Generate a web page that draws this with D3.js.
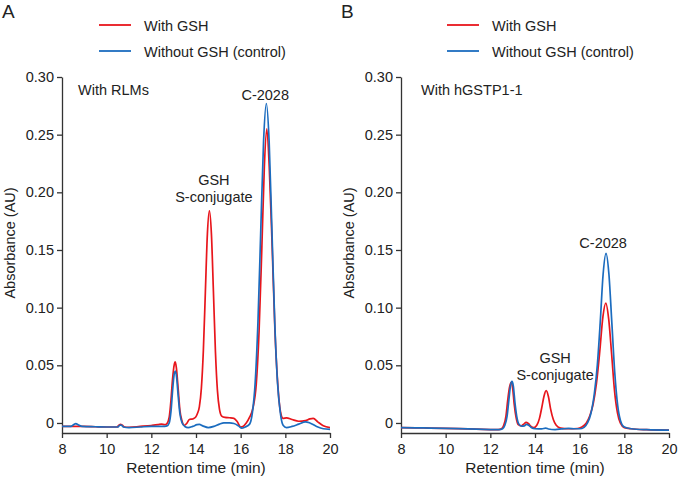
<!DOCTYPE html>
<html>
<head>
<meta charset="utf-8">
<script src="https://cdn.jsdelivr.net/npm/d3@7"></script>
<style>
  html, body { margin: 0; padding: 0; background: #fff; }
  svg { display: block; font-family: "Liberation Sans", Arial, Helvetica, sans-serif; }
  .axis path, .axis line { stroke: #333; stroke-width: 1.3; }
  .axis text { font-size: 14.5px; fill: #222; }
</style>
</head>
<body>
<svg id="chart" width="680" height="478"></svg>
<script>
// ---------------- data (retention time [min], absorbance [AU]) ----------------
const xTicks = [8, 10, 12, 14, 16, 18, 20];
const yTicks = [0, 0.05, 0.10, 0.15, 0.20, 0.25, 0.30];
const seriesNames = ["With GSH", "Without GSH (control)"];
const panelLabels = ["A", "B"];
const panelTitles = ["With RLMs", "With hGSTP1-1"];

const aWithGSH = [[8.0,-0.003],[8.5,-0.003],[9.0,-0.003],[9.5,-0.0033],[10.0,-0.0035],[10.45,-0.0035],[10.55,-0.002],[10.62,-0.0013],[10.7,-0.002],[10.8,-0.0035],[11.0,-0.0037],[11.5,-0.003],[12.0,-0.0022],[12.3,-0.0015],[12.45,-0.001],[12.6,-0.0015],[12.7,-0.0005],[12.8,0.005],[12.88,0.02],[12.95,0.038],[13.02,0.05],[13.07,0.053],[13.12,0.048],[13.2,0.03],[13.28,0.011],[13.37,0.002],[13.48,-0.002],[13.6,0.0],[13.7,0.003],[13.85,0.0035],[13.98,0.005],[14.06,0.008],[14.15,0.014],[14.24,0.03],[14.33,0.063],[14.42,0.114],[14.51,0.164],[14.6,0.184],[14.69,0.164],[14.78,0.114],[14.87,0.062],[14.96,0.028],[15.05,0.012],[15.15,0.006],[15.3,0.0048],[15.5,0.0045],[15.7,0.004],[15.85,0.001],[16.0,-0.0035],[16.1,-0.003],[16.25,0.0],[16.4,0.005],[16.55,0.013],[16.7,0.034],[16.825,0.08],[16.95,0.153],[17.06,0.222],[17.17,0.255],[17.28,0.222],[17.41,0.153],[17.535,0.08],[17.66,0.034],[17.78,0.01],[17.9,0.004],[18.05,0.0045],[18.3,0.003],[18.6,0.0015],[18.9,0.002],[19.1,0.0035],[19.25,0.004],[19.45,0.001],[19.7,-0.0025],[20.0,-0.004]];

const aWithoutGSH = [[8.0,-0.003],[8.4,-0.003],[8.52,-0.0015],[8.62,-0.0005],[8.72,-0.0015],[8.9,-0.003],[9.5,-0.0033],[10.0,-0.0035],[10.5,-0.0035],[10.58,-0.002],[10.65,-0.0018],[10.75,-0.0035],[11.0,-0.004],[11.5,-0.0035],[12.0,-0.003],[12.5,-0.003],[12.7,-0.0025],[12.8,0.0],[12.88,0.01],[12.96,0.03],[13.03,0.043],[13.08,0.045],[13.13,0.04],[13.2,0.024],[13.28,0.008],[13.38,0.0],[13.5,-0.003],[13.65,-0.004],[13.85,-0.003],[14.05,-0.0015],[14.15,-0.0013],[14.3,-0.0025],[14.55,-0.004],[14.8,-0.003],[15.05,-0.001],[15.25,0.0],[15.5,0.0],[15.7,-0.0005],[15.9,-0.0025],[16.05,-0.0045],[16.2,-0.0035],[16.4,-0.001],[16.525,0.009],[16.65,0.035],[16.775,0.088],[16.9,0.167],[17.025,0.244],[17.15,0.277],[17.275,0.244],[17.4,0.167],[17.525,0.088],[17.65,0.035],[17.775,0.009],[17.9,-0.002],[18.05,-0.004],[18.3,-0.003],[18.6,-0.001],[18.9,0.001],[19.1,0.0],[19.4,-0.003],[19.7,-0.005],[20.0,-0.0055]];

const bWithGSH = [[8.0,-0.004],[9.0,-0.0043],[10.0,-0.0047],[11.0,-0.0052],[12.0,-0.0057],[12.35,-0.0058],[12.5,-0.005],[12.6,-0.002],[12.7,0.006],[12.78,0.02],[12.86,0.031],[12.93,0.035],[13.0,0.03],[13.07,0.016],[13.15,0.005],[13.25,-0.0015],[13.38,-0.0025],[13.5,-0.001],[13.6,0.0005],[13.7,-0.0005],[13.82,-0.003],[13.95,-0.004],[14.08,-0.002],[14.2,0.004],[14.3,0.013],[14.4,0.023],[14.5,0.028],[14.6,0.023],[14.7,0.012],[14.82,0.003],[14.95,-0.002],[15.15,-0.0045],[15.5,-0.005],[15.9,-0.0048],[16.1,-0.0035],[16.3,0.0],[16.45,0.006],[16.6,0.016],[16.75,0.034],[16.9,0.062],[17.04,0.092],[17.17,0.104],[17.3,0.09],[17.43,0.06],[17.56,0.028],[17.69,0.009],[17.82,0.0],[18.0,-0.004],[18.3,-0.005],[19.0,-0.0058],[20.0,-0.0062]];

const bWithoutGSH = [[8.0,-0.004],[9.0,-0.0043],[10.0,-0.0047],[11.0,-0.0052],[12.0,-0.0057],[12.4,-0.0058],[12.55,-0.005],[12.65,-0.002],[12.75,0.006],[12.83,0.02],[12.9,0.032],[12.97,0.036],[13.03,0.032],[13.1,0.018],[13.18,0.006],[13.28,-0.001],[13.4,-0.0028],[13.52,-0.0025],[13.62,-0.0012],[13.72,-0.002],[13.85,-0.0042],[14.0,-0.005],[14.3,-0.0052],[14.48,-0.0045],[14.6,-0.0052],[14.9,-0.0057],[15.2,-0.0052],[15.5,-0.0047],[15.8,-0.005],[16.0,-0.005],[16.2,-0.0038],[16.35,0.0],[16.5,0.008],[16.66,0.026],[16.79,0.05],[16.92,0.087],[17.05,0.129],[17.18,0.147],[17.31,0.129],[17.44,0.087],[17.57,0.044],[17.7,0.0155],[17.83,0.002],[18.0,-0.0035],[18.3,-0.005],[19.0,-0.0058],[20.0,-0.0062]];

// peak annotations: [label centre time, first-line baseline absorbance, lines]
const aNotes = [[17.1, 0.280, ["C-2028"]], [14.8, 0.206, ["GSH", "S-conjugate"]]];
const bNotes = [[17.05, 0.1517, ["C-2028"]], [14.9, 0.052, ["GSH", "S-conjugate"]]];

// ---------------- drawing ----------------
const svg = d3.select("#chart");
const colors = ["#e8161c", "#1b6cbf"];

const y = d3.scaleLinear().domain([-0.0087, 0.30]).range([433, 77]);

const panels = [
  { left: 62, data: [aWithGSH, aWithoutGSH], notes: aNotes, legendX: 99 },
  { left: 401, data: [bWithGSH, bWithoutGSH], notes: bNotes, legendX: 447 }
];

panels.forEach((p, i) => {
  const x = d3.scaleLinear().domain([8, 20]).range([p.left, p.left + 268]);
  const g = svg.append("g");

  // axes
  g.append("g").attr("class", "axis")
    .attr("transform", `translate(${p.left},0)`)
    .call(d3.axisLeft(y).tickValues(yTicks)
      .tickFormat(d => d === 0 ? "0" : d3.format(".2f")(d))
      .tickSize(5).tickPadding(3).tickSizeOuter(0));
  g.append("g").attr("class", "axis")
    .attr("transform", `translate(0,433)`)
    .call(d3.axisBottom(x).tickValues(xTicks).tickSize(5).tickPadding(6).tickSizeOuter(0));

  // axis titles
  g.append("text").attr("x", p.left + 134).attr("y", 473)
    .attr("text-anchor", "middle").attr("font-size", 15.5).attr("fill", "#222")
    .text("Retention time (min)");
  g.append("text").attr("transform", `translate(${p.left - 47},243) rotate(-90)`)
    .attr("text-anchor", "middle").attr("font-size", 14.5).attr("fill", "#222")
    .text("Absorbance (AU)");

  // panel letter and title
  g.append("text").attr("x", p.left - 60).attr("y", 18)
    .attr("font-size", 19).attr("fill", "#222").text(panelLabels[i]);
  g.append("text").attr("x", p.left + 16 + (i === 1 ? 4 : 0)).attr("y", 95)
    .attr("font-size", 14.5).attr("fill", "#222").text(panelTitles[i]);

  // legend
  seriesNames.forEach((name, k) => {
    const ly = 25 + k * 26;
    g.append("line").attr("x1", p.legendX).attr("x2", p.legendX + 32)
      .attr("y1", ly).attr("y2", ly)
      .attr("stroke", colors[k]).attr("stroke-width", 1.8);
    g.append("text").attr("x", p.legendX + 45).attr("y", ly + 5.5)
      .attr("font-size", 14.5).attr("fill", "#222").text(name);
  });

  // traces
  const line = d3.line().x(d => x(d[0])).y(d => y(d[1])).curve(d3.curveMonotoneX);
  p.data.forEach((series, k) => {
    g.append("path").datum(series)
      .attr("d", line)
      .attr("fill", "none")
      .attr("stroke", colors[k])
      .attr("stroke-width", 1.7)
      .attr("stroke-linejoin", "round");
  });

  // annotations
  p.notes.forEach(([t, v, lines]) => {
    lines.forEach((txt, j) => {
      g.append("text")
        .attr("x", x(t))
        .attr("y", y(v) + j * 17)
        .attr("text-anchor", "middle").attr("font-size", 14.5).attr("fill", "#222")
        .text(txt);
    });
  });
});
</script>
</body>
</html>
